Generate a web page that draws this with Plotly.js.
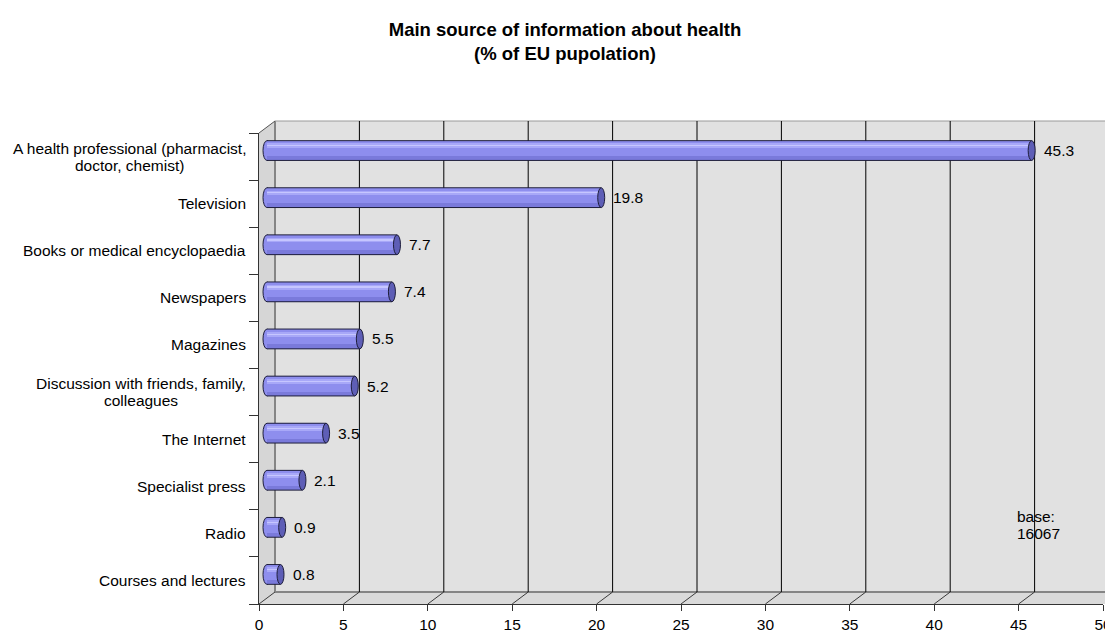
<!DOCTYPE html>
<html>
<head>
<meta charset="utf-8">
<script src="https://cdn.plot.ly/plotly-3.0.1.min.js"></script>
<style>
  html, body { margin: 0; padding: 0; background: #ffffff; }
  #chart { width: 1105px; height: 632px; }
</style>
</head>
<body>
<div id="chart"></div>
<script>
// ---- data ----
const categories = [
  'A health professional (pharmacist,<br>doctor, chemist)',
  'Television',
  'Books or medical encyclopaedia',
  'Newspapers',
  'Magazines',
  'Discussion with friends, family,<br>colleagues',
  'The Internet',
  'Specialist press',
  'Radio',
  'Courses and lectures'
];
const shares = [45.3, 19.8, 7.7, 7.4, 5.5, 5.2, 3.5, 2.1, 0.9, 0.8];
const xTicks = [0, 5, 10, 15, 20, 25, 30, 35, 40, 45, 50];
const titleLines = ['Main source of information about health', '(% of EU pupolation)'];
const baseNote = ['base:', '16067'];

// ---- page geometry (pixels) ----
const W = 1105, H = 632;
const FRONT_L = 259, FRONT_R = 1103;     // x axis 0 .. 50 on the front edge
const TOP = 133, BOT = 604;              // front edge of the category axis
const DX = 16, DY = 12;                  // depth of the 3-D box
const BAR_DX = 8, BAR_DY = 6;            // bars sit half way into the box
const LABEL_R = 248;                     // right edge of category labels
const FONT = '"Liberation Sans", Arial, sans-serif';
const FS = 15.5;
const LINE_H = 17;

const px = x => x / W;
const py = y => 1 - y / H;
const xMax = xTicks[xTicks.length - 1];
const unit = (FRONT_R - FRONT_L) / xMax;           // px per percent
const catPx = (BOT - TOP) / categories.length;     // px per category
const barShift = BAR_DY / catPx;                   // in category units
const barW = 0.42;

const BODY = '#8e8eee', LIGHT = '#a8a8f8', BRIGHT = '#c6c6ff', DARK = '#7a7adb';
const CAP = '#5e5eb6', EDGE = '#1e1e3c';

const idx = categories.map((_, i) => i);

// ---- bars: body plus lighting bands of the cylinder ----
function band(offset, width, color) {
  return {
    type: 'bar', orientation: 'h',
    x: shares, y: idx,
    xaxis: 'x2', yaxis: 'y',
    base: 0, offset: offset, width: width,
    marker: { color: color, line: { width: 0 } },
    hoverinfo: 'skip', showlegend: false
  };
}
const bTop = -barShift - barW / 2;
const traces = [
  // keeps the front axes on screen
  { type: 'scatter', mode: 'markers', x: shares, y: idx, xaxis: 'x', yaxis: 'y',
    marker: { opacity: 0 }, hoverinfo: 'skip', showlegend: false },
  band(bTop, barW, BODY),
  band(bTop + 0.06, 0.10, LIGHT),
  band(bTop + 0.095, 0.025, BRIGHT),
  band(bTop + barW * 0.78, barW * 0.22, DARK)
];

// ---- box walls, grid and floor ----
const shapes = [];
shapes.push({ type: 'rect', xref: 'paper', yref: 'paper', layer: 'below',
  x0: px(FRONT_L + DX), x1: 1, y0: py(BOT - DY), y1: py(TOP - DY),
  fillcolor: '#e1e1e1', line: { width: 0 } });
shapes.push({ type: 'path', xref: 'paper', yref: 'paper', layer: 'below',
  path: `M ${px(FRONT_L)},${py(TOP)} L ${px(FRONT_L + DX)},${py(TOP - DY)} L ${px(FRONT_L + DX)},${py(BOT - DY)} L ${px(FRONT_L)},${py(BOT)} Z`,
  fillcolor: '#d6d6d6', line: { width: 0 } });
shapes.push({ type: 'path', xref: 'paper', yref: 'paper', layer: 'below',
  path: `M ${px(FRONT_L)},${py(BOT)} L ${px(FRONT_L + DX)},${py(BOT - DY)} L 1,${py(BOT - DY)} L 1,${py(BOT)} Z`,
  fillcolor: '#dadada', line: { width: 0 } });
// wall edges
const wallEdge = { color: '#858585', width: 2 };
shapes.push({ type: 'line', xref: 'paper', yref: 'paper', layer: 'below',
  x0: px(FRONT_L + DX), x1: px(FRONT_L + DX), y0: py(BOT - DY), y1: py(TOP - DY), line: wallEdge });
shapes.push({ type: 'line', xref: 'paper', yref: 'paper', layer: 'below',
  x0: px(FRONT_L + DX), x1: 1, y0: py(BOT - DY), y1: py(BOT - DY), line: wallEdge });
shapes.push({ type: 'line', xref: 'paper', yref: 'paper', layer: 'below',
  x0: px(FRONT_L + DX), x1: 1, y0: py(TOP - DY), y1: py(TOP - DY), line: { color: '#9a9a9a', width: 1 } });
shapes.push({ type: 'line', xref: 'paper', yref: 'paper', layer: 'below',
  x0: px(FRONT_L), x1: px(FRONT_L + DX), y0: py(TOP), y1: py(TOP - DY), line: { color: '#555555', width: 1 } });

xTicks.forEach(t => {
  if (t > 0) {
    shapes.push({ type: 'line', xref: 'x', xsizemode: 'pixel', xanchor: t, x0: DX, x1: DX,
      yref: 'paper', y0: py(BOT - DY), y1: py(TOP - DY), layer: 'below',
      line: { color: '#000000', width: 1 } });
  }
  shapes.push({ type: 'line', xref: 'x', xsizemode: 'pixel', xanchor: t, x0: 0, x1: DX,
    yref: 'paper', y0: py(BOT), y1: py(BOT - DY), layer: 'below',
    line: { color: '#3a3a3a', width: 1 } });
});

// ---- cylinder outlines and caps ----
shares.forEach((v, i) => {
  const c = i - barShift, h = barW / 2;
  // rounded start of the cylinder (right half hidden behind the bar)
  shapes.push({ type: 'circle', xref: 'x2', yref: 'y', layer: 'below',
    xsizemode: 'pixel', xanchor: 0, x0: -4, x1: 4, y0: c - h, y1: c + h,
    fillcolor: BODY, line: { color: EDGE, width: 1 } });
  // long edges
  [c - h, c + h].forEach(yy => shapes.push({ type: 'line', xref: 'x2', yref: 'y', layer: 'above',
    x0: 0, x1: v, y0: yy, y1: yy, line: { color: EDGE, width: 1 } }));
  // end face
  shapes.push({ type: 'circle', xref: 'x2', yref: 'y', layer: 'above',
    xsizemode: 'pixel', xanchor: v, x0: -3.5, x1: 3.5, y0: c - h, y1: c + h,
    fillcolor: CAP, line: { color: EDGE, width: 1 } });
});

// ---- text ----
const annotations = [];
const ctx = document.createElement('canvas').getContext('2d');
ctx.font = FS + 'px ' + FONT;
categories.forEach((cat, i) => {
  const lines = cat.split('<br>');
  const widths = lines.map(s => ctx.measureText(s).width);
  const maxW = Math.max(...widths);
  lines.forEach((s, j) => annotations.push({
    xref: 'paper', yref: 'y', x: px(LABEL_R), y: i, xanchor: 'right', yanchor: 'middle',
    xshift: -(maxW - widths[j]) / 2, yshift: ((lines.length - 1) / 2 - j) * LINE_H,
    text: s, showarrow: false, font: { family: FONT, size: FS, color: '#000' }
  }));
});
shares.forEach((v, i) => annotations.push({
  xref: 'x2', yref: 'y', x: v, y: i - barShift, xanchor: 'left', yanchor: 'middle',
  xshift: 10, text: v.toFixed(1), showarrow: false,
  font: { family: FONT, size: FS, color: '#000' }
}));
baseNote.forEach((s, j) => annotations.push({
  xref: 'paper', yref: 'paper', x: px(1015), y: py(516 + j * 17.5),
  xanchor: 'left', yanchor: 'middle', text: s, showarrow: false,
  font: { family: FONT, size: FS, color: '#000' }
}));

const layout = {
  width: W, height: H,
  margin: { l: 0, r: 0, t: 0, b: 0, pad: 0 },
  paper_bgcolor: '#ffffff', plot_bgcolor: 'rgba(0,0,0,0)',
  showlegend: false,
  bargap: 0, barmode: 'overlay',
  title: {
    text: titleLines.map(s => '<b>' + s + '</b>').join('<br>'),
    font: { family: FONT, size: 18.5, color: '#000' },
    x: px(565), xanchor: 'center', xref: 'paper',
    y: py(36), yanchor: 'middle', yref: 'container'
  },
  xaxis: {
    domain: [px(FRONT_L), px(FRONT_R)], range: [0, xMax], anchor: 'y',
    tickmode: 'array', tickvals: xTicks, ticktext: xTicks.map(String),
    ticks: 'outside', ticklen: 6, tickcolor: '#333', tickwidth: 1,
    ticklabeloverflow: 'allow',
    showline: true, linecolor: '#333', linewidth: 1,
    showgrid: false, zeroline: false, fixedrange: true,
    tickfont: { family: FONT, size: FS, color: '#000' }
  },
  xaxis2: {
    domain: [px(FRONT_L), 1], anchor: 'y', visible: false, fixedrange: true,
    range: [-BAR_DX / unit, (W - FRONT_L - BAR_DX) / unit]
  },
  yaxis: {
    domain: [py(BOT), py(TOP)], anchor: 'x', type: 'linear',
    range: [categories.length - 0.5, -0.5],
    tickmode: 'array', tickvals: idx.map(i => i - 0.5).concat([categories.length - 0.5]),
    showticklabels: false,
    ticks: 'outside', ticklen: 9, tickcolor: '#333', tickwidth: 1,
    showline: true, linecolor: '#333', linewidth: 1,
    showgrid: false, zeroline: false, fixedrange: true
  },
  shapes: shapes,
  annotations: annotations
};

Plotly.newPlot('chart', traces, layout, { displayModeBar: false, staticPlot: true });
</script>
</body>
</html>
